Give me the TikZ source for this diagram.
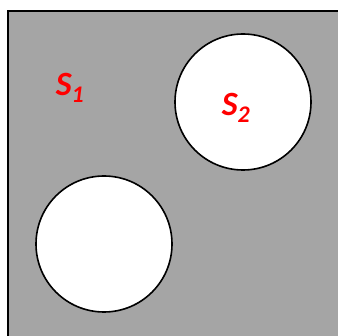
\documentclass[tikz,border=0pt]{standalone}
\usepackage{fontspec}
\newfontfamily\labelfont{Carlito}
\begin{document}
\begin{tikzpicture}[x=1pt, y=-1pt, line width=1.6pt]
  \clip (0,0) rectangle (338,336);
  \fill[white] (0,0) rectangle (338,336);
  \draw[fill={rgb,255:red,165;green,165;blue,165}] (8,11) rectangle (380,380);
  \draw[fill=white] (243,102) circle (68);
  \draw[fill=white] (104,244) circle (68);
  \node[font=\labelfont\bfseries\itshape\fontsize{34}{38}\selectfont, text=red, inner sep=0pt] (s1) at (70,88) {S\textsubscript{1}};
  \node[font=\labelfont\bfseries\itshape\fontsize{34}{38}\selectfont, text=red, inner sep=0pt] (s2) at (236,108) {S\textsubscript{2}};
\end{tikzpicture}
\end{document}
